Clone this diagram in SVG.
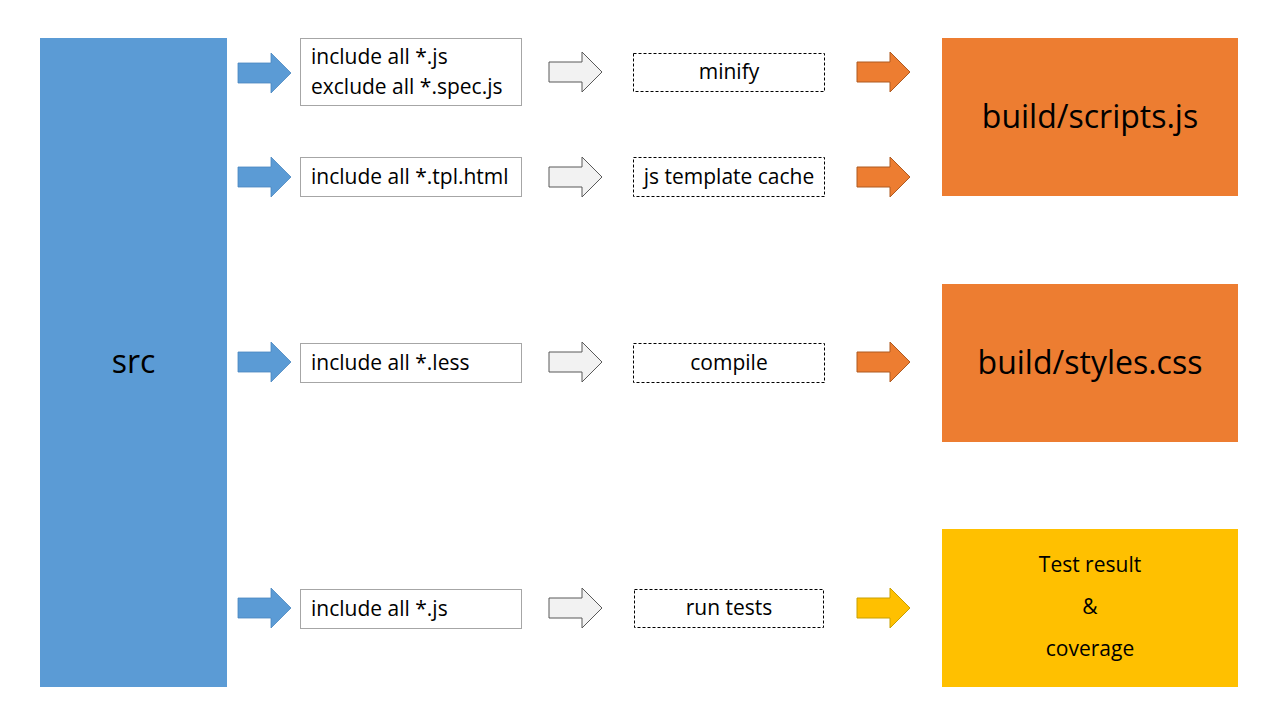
<svg xmlns="http://www.w3.org/2000/svg" width="1280" height="720" viewBox="0 0 1280 720">
<defs>
<style>
.t{font-family:"Open Sans","Liberation Sans",sans-serif;fill:#000}
.s{font-size:21px}
.b{font-size:32px}
.box{fill:#fff;stroke:#a6a6a6;stroke-width:1}
.dbox{fill:#fff;stroke:#000;stroke-width:1;stroke-dasharray:3 2}
.ab{fill:#5B9BD5;stroke:#4a86bf;stroke-width:0.8}
.ag{fill:#F2F2F2;stroke:#595959;stroke-width:1}
.ao{fill:#ED7D31;stroke:#AE5A21;stroke-width:1}
.ay{fill:#FFC000;stroke:#C9A000;stroke-width:1}
</style>
<path id="arr" d="M0,-10 H33 V-20 L53,0 L33,20 V10 H0 Z"/>
</defs>
<rect width="1280" height="720" fill="#fff"/>
<g id="src"><rect x="40" y="38" width="187" height="649" fill="#5B9BD5"/><text class="t b" x="133.5" y="373" text-anchor="middle">src</text></g>
<g id="connectors">
<use href="#arr" class="ab" x="238" y="73"/>
<use href="#arr" class="ab" x="238" y="177"/>
<use href="#arr" class="ab" x="238" y="362"/>
<use href="#arr" class="ab" x="238" y="608"/>
<use href="#arr" class="ag" x="549" y="72"/>
<use href="#arr" class="ag" x="549" y="177"/>
<use href="#arr" class="ag" x="549" y="362"/>
<use href="#arr" class="ag" x="549" y="608"/>
<use href="#arr" class="ao" x="857" y="72"/>
<use href="#arr" class="ao" x="857" y="177"/>
<use href="#arr" class="ao" x="857" y="362"/>
<use href="#arr" class="ay" x="857" y="608"/>
</g>
<g id="in-js"><rect class="box" x="300.5" y="38.5" width="221" height="67"/><text class="t s" x="311" y="64">include all *.js</text><text class="t s" x="311" y="94">exclude all *.spec.js</text></g>
<g id="in-tpl"><rect class="box" x="300.5" y="157.5" width="221" height="39"/><text class="t s" x="311" y="184">include all *.tpl.html</text></g>
<g id="in-less"><rect class="box" x="300.5" y="343.5" width="221" height="39"/><text class="t s" x="311" y="370">include all *.less</text></g>
<g id="in-test"><rect class="box" x="300.5" y="589.5" width="221" height="39"/><text class="t s" x="311" y="616">include all *.js</text></g>
<g id="minify"><rect class="dbox" x="633.5" y="53.5" width="191" height="38"/><text class="t s" x="729" y="79" text-anchor="middle">minify</text></g>
<g id="tplcache"><rect class="dbox" x="633.5" y="157.5" width="191" height="39"/><text class="t s" x="729" y="184" text-anchor="middle">js template cache</text></g>
<g id="compile"><rect class="dbox" x="633.5" y="343.5" width="191" height="39"/><text class="t s" x="729" y="370" text-anchor="middle">compile</text></g>
<g id="runtests"><rect class="dbox" x="634.5" y="589.5" width="189" height="38"/><text class="t s" x="729" y="615" text-anchor="middle">run tests</text></g>
<g id="scripts"><rect x="942" y="38" width="296" height="158" fill="#ED7D31"/><text class="t b" x="1090" y="128" text-anchor="middle">build/scripts.js</text></g>
<g id="styles"><rect x="942" y="284" width="296" height="158" fill="#ED7D31"/><text class="t b" x="1090" y="374" text-anchor="middle">build/styles.css</text></g>
<g id="tests"><rect x="942" y="529" width="296" height="158" fill="#FFC000"/><text class="t s" x="1090" y="572" text-anchor="middle">Test result</text><text class="t s" x="1090" y="614" text-anchor="middle">&amp;</text><text class="t s" x="1090" y="656" text-anchor="middle">coverage</text></g>
</svg>
